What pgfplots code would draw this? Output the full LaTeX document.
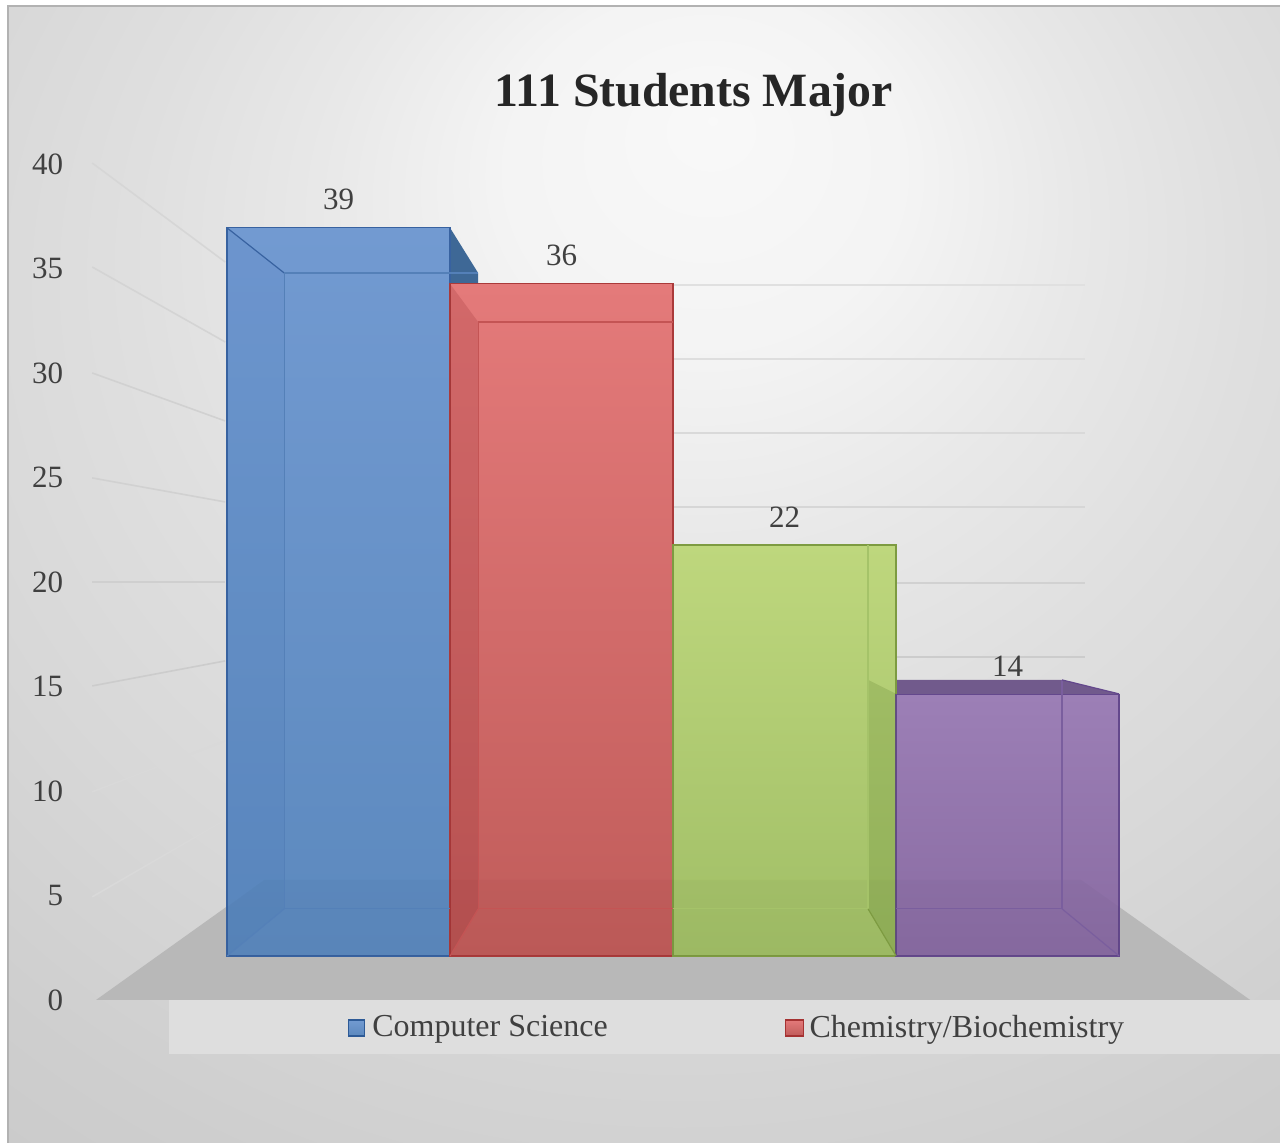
\documentclass[border=0pt]{standalone}
\usepackage{pgfplots}
\pgfplotsset{compat=1.18}
\usepackage{fontspec}
\setmainfont{Liberation Serif}
\pgfdeclareradialshading{bgsh}{\pgfpoint{2.7bp}{20bp}}{
  rgb(0bp)=(0.975,0.975,0.975);
  rgb(8bp)=(0.955,0.955,0.955);
  rgb(15bp)=(0.91,0.91,0.91);
  rgb(22bp)=(0.875,0.875,0.875);
  rgb(30bp)=(0.845,0.845,0.845);
  rgb(38bp)=(0.81,0.81,0.81);
  rgb(47bp)=(0.78,0.78,0.78);
  rgb(70bp)=(0.77,0.77,0.77)}
\definecolor{txt}{HTML}{404040}
\definecolor{bluedark}{RGB}{62,104,150}
\definecolor{purpdark}{RGB}{113,90,140}
\definecolor{blueline}{RGB}{56,98,160}
\definecolor{bluetop}{RGB}{114,154,209}
\definecolor{bluebot}{RGB}{92,137,190}
\definecolor{bluekey}{RGB}{100,145,205}
\definecolor{bluekeyl}{RGB}{45,90,150}
\definecolor{redline}{RGB}{170,58,58}
\definecolor{redtop}{RGB}{228,122,122}
\definecolor{redbot}{RGB}{192,92,90}
\definecolor{redkey}{RGB}{205,95,95}
\definecolor{redkeyl}{RGB}{165,50,50}
\definecolor{greenline}{RGB}{125,155,65}
\definecolor{greentop}{RGB}{190,215,125}
\definecolor{greenbot}{RGB}{160,190,102}
\definecolor{purpline}{RGB}{100,72,140}
\definecolor{purptop}{RGB}{156,127,182}
\definecolor{purpbot}{RGB}{137,107,162}
\definecolor{blueside}{RGB}{50,100,170}
\definecolor{blueedge}{RGB}{84,128,184}
\definecolor{redside}{RGB}{150,45,50}
\definecolor{rededge}{RGB}{196,84,84}
\definecolor{greenside}{RGB}{90,125,40}
\definecolor{greenedge}{RGB}{165,195,105}
\definecolor{purpedge}{RGB}{122,94,158}
\pgfplotsset{
  common/.style={width=640pt,height=571.5pt,scale only axis,at={(0pt,0pt)},anchor=south west},
  pix/.style={common,hide axis,xmin=0,xmax=1280,ymin=0,ymax=1143,y dir=reverse},
  poly/.style={draw=none,fill=#1,forget plot,mark=none},
  ln/.style={draw=#1,line width=0.6pt,forget plot,mark=none},
  grd/.style={draw=#1,line width=0.8pt,forget plot,mark=none},
}
\begin{document}
\begin{tikzpicture}
% background layer, in pixel coordinates of the picture
\begin{axis}[pix]
\fill[white] (axis cs:0,0) rectangle (axis cs:1280,1143);
\shade[shading=bgsh] (axis cs:8,6) rectangle (axis cs:1280,1143);
\addplot[draw=black!30,line width=1.2pt,forget plot,mark=none] coordinates {(8,1143)(8,6)(1280,6)};
% left-wall gridlines
\addplot[grd=black!16] coordinates {(92,163)(225,262)};
\addplot[grd=black!17] coordinates {(92,267)(225,342)};
\addplot[grd=black!18] coordinates {(92,373)(225,421)};
\addplot[grd=black!18] coordinates {(92,478)(225,502)};
\addplot[grd=black!19] coordinates {(92,582)(225,582)};
\addplot[grd=black!20] coordinates {(92,686)(225,661)};
\addplot[grd=white!85!black] coordinates {(92,792)(225,741)};
\addplot[grd=white!85!black] coordinates {(92,897)(225,820)};
% back-wall gridlines
\addplot[grd=black!12] coordinates {(450,285)(1085,285)};
\addplot[grd=black!13] coordinates {(450,359)(1085,359)};
\addplot[grd=black!15] coordinates {(450,433)(1085,433)};
\addplot[grd=black!16] coordinates {(450,507)(1085,507)};
\addplot[grd=black!18] coordinates {(450,583)(1085,583)};
\addplot[grd=black!20] coordinates {(450,657)(1085,657)};
% floor and legend band
\addplot[poly=black!28] coordinates {(96,1000)(264,880)(1081,880)(1250,1000)} --cycle;
\addplot[poly=white!87!black] coordinates {(169,1000)(1280,1000)(1280,1054)(169,1054)} --cycle;
% faces seen past the front of the bars
\addplot[poly=bluedark] coordinates {(450,228)(478,273)(478,290)(450,290)} --cycle;
\addplot[poly=purpdark] coordinates {(896,680)(1062,680)(1119,694)(896,694)} --cycle;
\end{axis}
% value axis with its tick labels
\begin{axis}[common,xmin=0,xmax=1280,ymin=-6.84,ymax=47.85,
  axis x line=none,axis y line=left,axis line style={draw=none},
  ytick={0,5,...,40},major tick length=0pt,
  /pgf/number format/assume math mode=true,
  yticklabel style={anchor=east,xshift=35pt,font=\fontsize{15.5}{18}\selectfont,text=txt}]
\addplot[draw=none,forget plot] coordinates {(0,0)(1,40)};
\end{axis}
% the bars
\begin{axis}[common,hide axis,xmin=-1.518,xmax=4.222,ymin=-10.016,ymax=51.2,
  ybar,bar width=1,bar shift=0pt,clip=false,
  /pgf/number format/assume math mode=true,
  title={111 Students Major},
  title style={at={(0.542,0.906)},anchor=center,font=\fontsize{23.9}{27}\bfseries\selectfont,text={black!85}},
  nodes near coords,
  every node near coord/.append style={font=\fontsize{15.5}{18}\selectfont,text=txt,anchor=center,yshift=14pt},
  legend columns=2,
  legend style={at={(347/1280,1-1028/1143)},anchor=west,draw=none,fill=none,
    font=\fontsize{16}{18}\selectfont,text=txt,inner sep=0pt,
    /tikz/column 2/.style={column sep=88.5pt},
    nodes={inner sep=0pt,anchor=west}}]
\addplot[draw=blueline,line width=0.7pt,
  top color=bluetop,bottom color=bluebot,
  legend image code/.code={\draw[draw=bluekeyl,fill=bluekey,line width=.8pt] (0pt,-4pt) rectangle (8pt,4pt);\draw[draw=none] (8pt,0) -- (12pt,0);}]
  coordinates {(0,39)};
\addlegendentry{Computer Science}
\addplot[draw=redline,line width=0.7pt,
  top color=redtop,bottom color=redbot,
  legend image code/.code={\draw[draw=redkeyl,fill=redkey,line width=.8pt] (0pt,-4pt) rectangle (9pt,4pt);\draw[draw=none] (9pt,0) -- (12pt,0);}]
  coordinates {(1,36)};
\addlegendentry{Chemistry/Biochemistry}
\addplot[draw=greenline,line width=0.7pt,forget plot,
  top color=greentop,bottom color=greenbot]
  coordinates {(2,22)};
\addplot[draw=purpline,line width=0.7pt,forget plot,
  top color=purptop,bottom color=purpbot]
  coordinates {(3,14)};
\end{axis}
% 3-D edges and shaded side faces on top of the translucent bars
\begin{axis}[pix]
\addplot[poly=black,fill opacity=0.025] coordinates {(227,907)(264,880)(1081,880)(1119,907)(1119,956)(227,956)} --cycle;
% blue
\addplot[poly=blueside,fill opacity=0.08] coordinates {(227,228)(284,273)(284,909)(227,956)} --cycle;
\addplot[ln=blueline] coordinates {(227,228)(284,273)};
\addplot[ln=blueedge] coordinates {(284,273)(478,273)};
\addplot[ln=blueedge] coordinates {(284,273)(284,909)(450,909)};
\addplot[ln=blueedge] coordinates {(227,956)(284,909)};
% red
\addplot[poly=redside,fill opacity=0.22] coordinates {(450,284)(478,322)(478,909)(450,956)} --cycle;
\addplot[ln=rededge] coordinates {(478,322)(673,322)};
\addplot[ln=rededge] coordinates {(478,322)(478,909)(673,909)};
\addplot[ln=rededge] coordinates {(450,956)(478,909)};
% green
\addplot[poly=greenside,fill opacity=0.22] coordinates {(868,680)(896,694)(896,956)(868,909)} --cycle;
\addplot[ln=greenedge] coordinates {(868,545)(868,909)(673,909)};
\addplot[ln=greenline] coordinates {(868,909)(896,956)};
% purple
\addplot[ln=purpedge] coordinates {(896,909)(1062,909)(1062,680)};
\addplot[ln=purpedge] coordinates {(1062,909)(1119,956)};
\addplot[ln=purpline] coordinates {(1062,680)(1119,694)};
\end{axis}
\end{tikzpicture}
\end{document}
